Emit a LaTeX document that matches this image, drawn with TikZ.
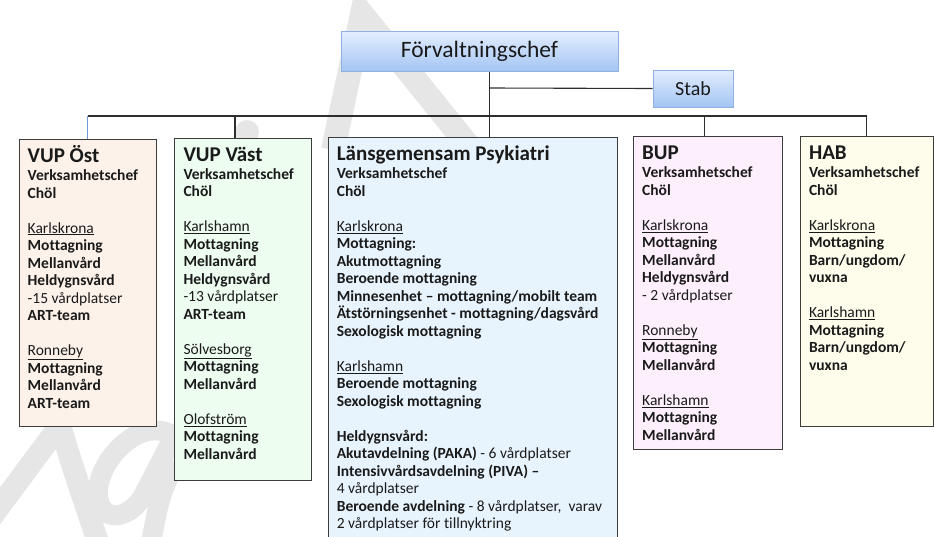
\documentclass[tikz,border=0pt]{standalone}
\usepackage{fontspec}
\setmainfont{Carlito}[Ligatures={NoCommon}]
\definecolor{wm}{HTML}{E6E6E6}
\definecolor{boxline}{HTML}{3C3C3C}
\definecolor{conn}{HTML}{2E2E2E}
\definecolor{txt}{HTML}{1A1A1A}
\definecolor{blueline}{HTML}{6C98D6}
\definecolor{topblue}{HTML}{E2EDFE}
\definecolor{botblue}{HTML}{A3C4F3}
\definecolor{blueedge}{HTML}{8FB2E3}
\definecolor{fillost}{HTML}{FDF2EA}
\definecolor{fillvast}{HTML}{EDFDF0}
\definecolor{filllans}{HTML}{E8F4FD}
\definecolor{fillbup}{HTML}{FDF0FC}
\definecolor{fillhab}{HTML}{FEFDEC}
\newcommand\bline[1]{\hbox{#1}}
\newcommand\nrm[1]{{\mdseries #1}}
\newcommand\place[1]{{\mdseries\underline{#1}}}
\newcommand\bodyfont{\fontsize{15.5}{17.5}\selectfont\bfseries}
\begin{document}
\begin{tikzpicture}[x=1pt,y=-1pt,
  orgbox/.style={draw=boxline, line width=1.2pt, anchor=north west, inner sep=0pt},
  headbox/.style={draw=blueedge, line width=1pt, top color=topblue, bottom color=botblue, inner sep=0pt, text=txt},
  conline/.style={draw=conn, line width=1.1pt},
  boxtitle/.style={anchor=base west, inner sep=0pt, text=txt, font=\fontsize{21}{24}\selectfont\bfseries},
  boxbody/.style={anchor=base west, inner sep=0pt, text=txt},
  wmark/.style={draw=wm, line width=24pt, line join=miter}
]
\useasboundingbox (0,0) rectangle (934,536);
% watermark
\draw[wmark] (333,150) -- (362,14) -- (472,150);
\fill[wm] (247,132) circle (12);
\draw[wmark, line width=22pt] (-12,522) -- (60,425) .. controls (72,465) .. (100,548);
\draw[wmark, line width=20pt, line cap=round] (170,434) .. controls (140,418) and (100,458) .. (98,490) .. controls (96,520) and (124,524) .. (142,498) -- (172,440);
\draw[wmark, line width=20pt] (176,462) .. controls (160,495) .. (150,548);
% coordinates
\coordinate (hub) at (489.6,72);
\coordinate (stabj) at (489.6,88);
\coordinate (busl) at (87.5,116);
\coordinate (busr) at (866.6,116);
\coordinate (bus2) at (235,116);
\coordinate (bus4) at (704.6,116);
% boxes
\node[orgbox, fill=fillost, minimum width=137.5pt, minimum height=287pt] (vupo) at (18.5,138.5) {};
\node[orgbox, fill=fillvast, minimum width=137.5pt, minimum height=342pt] (vupv) at (173.5,137.5) {};
\node[orgbox, fill=filllans, minimum width=289.4pt, minimum height=410pt] (lans) at (327.6,136.8) {};
\node[orgbox, fill=fillbup, minimum width=149pt, minimum height=312.8pt] (bup) at (633,135.7) {};
\node[orgbox, fill=fillhab, minimum width=133.2pt, minimum height=289.9pt] (hab) at (799.5,135.7) {};
% connectors
\draw[conline] (busl) -- (busr);
\draw[conline] (hub) -- (lans.north -| hub);
\draw[draw=blueline, line width=1.1pt] (busl) -- (vupo.north -| busl);
\draw[conline] (bus2) -- (vupv.north -| bus2);
\draw[conline] (bus4) -- (bup.north -| bus4);
\draw[conline] (busr) -- (hab.north -| busr);
% head boxes
\node[headbox, minimum width=277pt, minimum height=40pt, font=\fontsize{23.5}{26}\selectfont] (forv) at (479.5,51.8) {Förvaltningschef};
\node[headbox, minimum width=80pt, minimum height=37pt, font=\fontsize{20}{22}\selectfont] (stab) at (693,88.5) {Stab};
\draw[conline] (stabj) -- (stab.west);
% texts
\node[boxtitle] (t1) at (27.5,162.3) {VUP Öst};
\node[boxbody] (b1) at (27.5,180.5) {\vtop{\bodyfont
\bline{Verksamhetschef}\bline{Chöl}\bline{}\bline{\place{Karlskrona}}\bline{Mottagning}\bline{Mellanvård}\bline{Heldygnsvård}\bline{\nrm{-15 vårdplatser}}\bline{ART-team}\bline{}\bline{\place{Ronneby}}\bline{Mottagning}\bline{Mellanvård}\bline{ART-team}}};
\node[boxtitle] (t2) at (183.3,161.2) {VUP Väst};
\node[boxbody] (b2) at (183.3,179.4) {\vtop{\bodyfont
\bline{Verksamhetschef}\bline{Chöl}\bline{}\bline{\place{Karlshamn}}\bline{Mottagning}\bline{Mellanvård}\bline{Heldygnsvård}\bline{\nrm{-13 vårdplatser}}\bline{ART-team}\bline{}\bline{\place{Sölvesborg}}\bline{Mottagning}\bline{Mellanvård}\bline{}\bline{\place{Olofström}}\bline{Mottagning}\bline{Mellanvård}}};
\node[boxtitle] (t3) at (336.6,160.6) {Länsgemensam Psykiatri};
\node[boxbody] (b3) at (336.6,178.8) {\vtop{\bodyfont
\bline{Verksamhetschef}\bline{Chöl}\bline{}\bline{\place{Karlskrona}}\bline{Mottagning:}\bline{Akutmottagning}\bline{Beroende mottagning}\bline{Minnesenhet – mottagning/mobilt team}\bline{Ätstörningsenhet - mottagning/dagsvård}\bline{Sexologisk mottagning}\bline{}\bline{\place{Karlshamn}}\bline{Beroende mottagning}\bline{Sexologisk mottagning}\bline{}\bline{Heldygnsvård:}\bline{Akutavdelning (PAKA)\nrm{ - 6 vårdplatser}}\bline{Intensivvårdsavdelning (PIVA) –}\bline{\nrm{4 vårdplatser}}\bline{Beroende avdelning\nrm{ - 8 vårdplatser,\ \ varav}}\bline{\nrm{2 vårdplatser för tillnyktring}}}};
\node[boxtitle] (t4) at (642,159.5) {BUP};
\node[boxbody] (b4) at (642,177.7) {\vtop{\bodyfont
\bline{Verksamhetschef}\bline{Chöl}\bline{}\bline{\place{Karlskrona}}\bline{Mottagning}\bline{Mellanvård}\bline{Heldygnsvård}\bline{\nrm{- 2 vårdplatser}}\bline{}\bline{\place{Ronneby}}\bline{Mottagning}\bline{Mellanvård}\bline{}\bline{\place{Karlshamn}}\bline{Mottagning}\bline{Mellanvård}}};
\node[boxtitle] (t5) at (808.8,159.5) {HAB};
\node[boxbody] (b5) at (808.8,177.7) {\vtop{\bodyfont
\bline{Verksamhetschef}\bline{Chöl}\bline{}\bline{\place{Karlskrona}}\bline{Mottagning}\bline{Barn/ungdom/}\bline{vuxna}\bline{}\bline{\place{Karlshamn}}\bline{Mottagning}\bline{Barn/ungdom/}\bline{vuxna}}};
\end{tikzpicture}
\end{document}
